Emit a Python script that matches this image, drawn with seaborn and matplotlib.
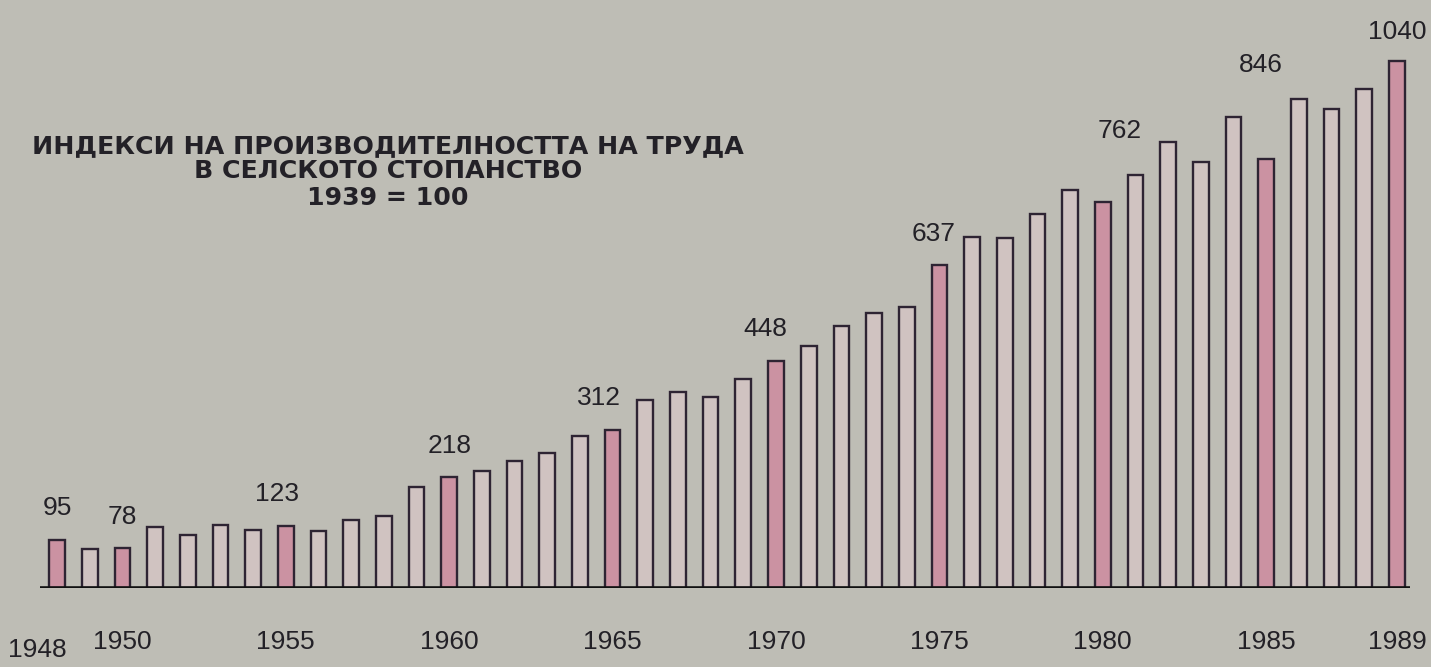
import matplotlib
matplotlib.use("Agg")
import matplotlib.pyplot as plt
import matplotlib.transforms as mtransforms
import seaborn as sns
import pandas as pd

# Индекси на производителността на труда в селското стопанство, 1939 = 100
years = list(range(1948, 1990))
index_values = [95, 76, 78, 121, 105, 125, 115, 123, 112, 135,
                143, 199, 218, 231, 250, 267, 300, 312, 370, 386,
                376, 413, 448, 478, 516, 542, 555, 637, 693, 690,
                737, 785, 762, 815, 880, 840, 930, 846, 965, 945,
                985, 1040]
highlight_years = [1948, 1950, 1955, 1960, 1965, 1970, 1975, 1980, 1985, 1989]
tick_years = highlight_years
title_lines = ["ИНДЕКСИ НА ПРОИЗВОДИТЕЛНОСТТА НА ТРУДА",
               "В СЕЛСКОТО СТОПАНСТВО",
               "1939 = 100"]

df = pd.DataFrame({"year": [str(y) for y in years], "value": index_values})
df["kind"] = ["key" if y in highlight_years else "other" for y in years]

bg = "#bebdb5"
ink = "#232127"
sns.set_style("white")
plt.rcParams["font.family"] = ["Liberation Sans", "DejaVu Sans"]

fig = plt.figure(figsize=(14.31, 6.67), dpi=100, facecolor=bg)
ax = fig.add_axes([40 / 1431, 79 / 667, 1370 / 1431, 588 / 667])
ax.set_facecolor(bg)

sns.barplot(data=df, x="year", y="value", hue="kind",
            palette={"key": "#d4889e", "other": "#d3c1be"},
            dodge=False, legend=False, width=0.48,
            edgecolor="#2e2433", linewidth=1.7, ax=ax)

ax.set_xlim(-0.52, 41.4)
ax.set_ylim(0, 1160)
ax.axhline(0, color="#111111", lw=2.6, zorder=5)
for s in ax.spines.values():
    s.set_visible(False)
ax.set_yticks([])
ax.set_xlabel("")
ax.set_ylabel("")

pos = [years.index(y) for y in tick_years]
ax.set_xticks(pos, [str(y) for y in tick_years])
ax.tick_params(axis="x", length=0, pad=30, labelsize=19, labelcolor=ink)
# first label sits a bit left of its bar in the original
first = ax.get_xticklabels()[0]
first.set_transform(first.get_transform() +
                    mtransforms.ScaledTranslation(-0.2, -0.08, fig.dpi_scale_trans))

# value labels above the highlighted bars
label_shift = {1955: (-6, 0), 1965: (-10, 0), 1970: (-8, 0),
               1975: (-4, 0), 1980: (12, 28), 1985: (-4, 45), 1989: (0, -2)}
for y in highlight_years:
    i = years.index(y)
    dx, dy = label_shift.get(y, (0, 0))
    ax.annotate(str(index_values[i]), (i, index_values[i]),
                xytext=(dx, 14 + dy), textcoords="offset points",
                ha="center", va="bottom", fontsize=19, color=ink)

title_y = [146, 171, 198]
for line, yy in zip(title_lines, title_y):
    fig.text(388 / 1431, 1 - yy / 667, line, ha="center", va="center",
             fontsize=18.2, fontweight="bold", color=ink,
             family=["DejaVu Sans"])

fig.savefig("out.png", dpi=100, facecolor=bg)
